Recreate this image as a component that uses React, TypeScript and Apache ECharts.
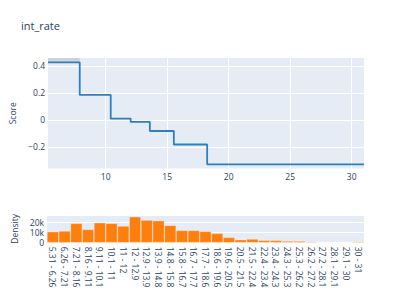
import React, { useEffect, useRef } from "react";
import * as echarts from "echarts";

const stepX = [5.31, 7.89, 10.41, 12.03, 13.59, 15.54, 18.25, 31];
const stepScore = [0.427, 0.185, 0.01, -0.015, -0.082, -0.182, -0.33, -0.33];
const scoreTicks = [-0.2, 0, 0.2, 0.4];
const xTicks = [10, 15, 20, 25, 30];
const bandRange = [5.31, 7.89];
const bandScore = [0.427, 0.459];

const bins = [
  "5.31 - 6.26", "6.26 - 7.21", "7.21 - 8.16", "8.16 - 9.11", "9.11 - 10.1",
  "10.1 - 11", "11 - 12", "12 - 12.9", "12.9 - 13.9", "13.9 - 14.8",
  "14.8 - 15.8", "15.8 - 16.7", "16.7 - 17.7", "17.7 - 18.6", "18.6 - 19.6",
  "19.6 - 20.5", "20.5 - 21.5", "21.5 - 22.4", "22.4 - 23.4", "23.4 - 24.3",
  "24.3 - 25.3", "25.3 - 26.2", "26.2 - 27.2", "27.2 - 28.1", "28.1 - 29.1",
  "29.1 - 30", "30 - 31",
];
const counts = [
  10700, 11300, 18800, 12900, 19400, 18800, 16200, 25200, 22000, 21400,
  16800, 12000, 12000, 11000, 9100, 5200, 2900, 3600, 2300, 2300,
  1600, 1600, 1000, 300, 300, 100, 1000,
];

const FONT = "Open Sans";
const TXT = "#2a3f5f";

export default function App() {
  const ref = useRef<HTMLDivElement>(null);
  useEffect(() => {
    if (!ref.current) return;
    const chart = echarts.init(ref.current, null, { renderer: "svg" });
    const minus = (v: number) => String(v).replace("-", "\u2212");
    chart.setOption({
      animation: false,
      backgroundColor: "#ffffff",
      title: {
        text: "int_rate",
        left: 16,
        top: 15,
        textStyle: { fontFamily: FONT, fontSize: 11, fontWeight: "normal", color: TXT },
      },
      grid: [
        { left: 47, right: 47, top: 58, height: 110.5, show: true, backgroundColor: "#e5ecf6", borderWidth: 0 },
        { left: 47, right: 47, top: 215, height: 27.7, show: true, backgroundColor: "#e5ecf6", borderWidth: 0 },
      ],
      xAxis: [
        {
          type: "value",
          gridIndex: 0,
          min: 5.31,
          max: 31,
          axisLine: { show: false },
          axisTick: { show: false, customValues: xTicks },
          axisLabel: { customValues: xTicks, fontFamily: FONT, fontSize: 8.5, color: TXT, margin: 3 },
          splitLine: { show: true, lineStyle: { color: "#ffffff", width: 1 } },
        },
        {
          type: "category",
          gridIndex: 1,
          data: bins,
          axisLine: { show: false },
          axisTick: { show: false },
          axisLabel: { rotate: -90, interval: 0, fontFamily: FONT, fontSize: 8.5, color: TXT, margin: 4 },
          splitLine: { show: false },
        },
      ],
      yAxis: [
        {
          type: "value",
          gridIndex: 0,
          min: -0.36,
          max: 0.459,
          name: "Score",
          nameLocation: "middle",
          nameGap: 31,
          nameTextStyle: { fontFamily: FONT, fontSize: 8.5, color: TXT },
          axisLine: { show: false },
          axisTick: { show: false, customValues: scoreTicks },
          axisLabel: { customValues: scoreTicks, formatter: minus, fontFamily: FONT, fontSize: 8.5, color: TXT, margin: 3 },
          splitLine: { show: true, lineStyle: { color: "#ffffff", width: 1 } },
        },
        {
          type: "value",
          gridIndex: 1,
          min: 0,
          max: 26900,
          interval: 10000,
          name: "Density",
          nameLocation: "middle",
          nameGap: 28,
          nameTextStyle: { fontFamily: FONT, fontSize: 8.5, color: TXT },
          axisLine: { show: false },
          axisTick: { show: false },
          axisLabel: {
            formatter: (v: number) => (v === 0 ? "0" : v / 1000 + "k"),
            fontFamily: FONT, fontSize: 8.5, color: TXT, margin: 3,
          },
          splitLine: { show: true, lineStyle: { color: "#ffffff", width: 1 } },
        },
      ],
      series: [
        {
          type: "line",
          xAxisIndex: 0,
          yAxisIndex: 0,
          step: "end",
          symbol: "none",
          data: stepX.map((x, i) => [x, stepScore[i]]),
          lineStyle: { color: "#2f7fbc", width: 1.8 },
          markArea: {
            silent: true,
            itemStyle: { color: "rgba(150,150,150,0.3)" },
            data: [[
              { xAxis: bandRange[0], yAxis: bandScore[0] },
              { xAxis: bandRange[1], yAxis: bandScore[1] },
            ]],
          },
        },
        {
          type: "bar",
          xAxisIndex: 1,
          yAxisIndex: 1,
          data: counts,
          barCategoryGap: "0%",
          itemStyle: { color: "#ff7f0e", borderColor: "rgba(255,255,255,0.45)", borderWidth: 0.6 },
        },
      ],
    });
    return () => chart.dispose();
  }, []);
  return (
    <div
      ref={ref}
      style={{ position: "fixed", left: 0, top: 0, width: 411, height: 294 }}
    />
  );
}
